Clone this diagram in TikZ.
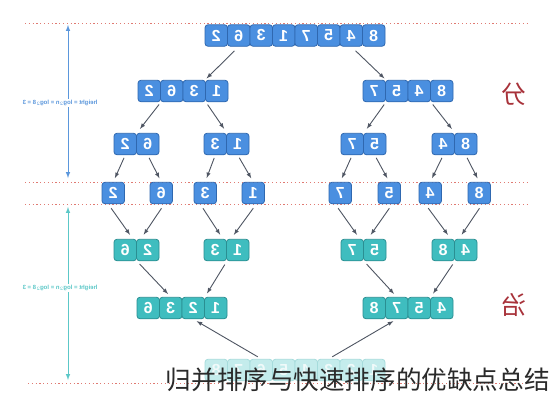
\documentclass[tikz,border=0pt]{standalone}
\usepackage{fontspec}
\usepackage{graphicx}
\setsansfont{Liberation Sans}
\newfontfamily\cjk{Noto Sans CJK SC}
\definecolor{splitblue}{HTML}{4A8FE0}
\definecolor{splitedge}{HTML}{2F68B0}
\definecolor{mergeteal}{HTML}{3FBDBF}
\definecolor{mergeedge}{HTML}{2A8F92}
\definecolor{fadeteal}{HTML}{C4ECEC}
\definecolor{fadeedge}{HTML}{A6DCDC}
\definecolor{cutred}{HTML}{E07A72}
\definecolor{arrowgrey}{HTML}{4F5663}
\definecolor{heightblue}{HTML}{5B97DC}
\definecolor{heightteal}{HTML}{5CC8C8}
\definecolor{hanred}{HTML}{A8323A}
\definecolor{captiongrey}{HTML}{2A2A2A}
\tikzset{
  cellbase/.style={rounded corners=3pt, minimum width=22.5pt, minimum height=21.5pt,
    inner sep=0pt, line width=0.8pt, text=white,
    font=\sffamily\bfseries\fontsize{16}{16}\selectfont},
  splitcell/.style={cellbase, draw=splitedge, fill=splitblue},
  mergecell/.style={cellbase, draw=mergeedge, fill=mergeteal},
  fadecell/.style={cellbase, draw=fadeedge, fill=fadeteal, text=white!75!fadeteal},
  flow/.style={-latex, color=arrowgrey, line width=0.9pt, shorten <=4pt, shorten >=4pt},
  cutline/.style={cutred, line width=0.9pt, dash pattern=on 1.2pt off 2.6pt},
  heightlabel/.style={fill=white, inner sep=1pt, font=\sffamily\bfseries\fontsize{6}{7}\selectfont},
}
% one row of cells: style, name, left edge, centre y, values
\newcommand{\cellrow}[5]{\foreach \v [count=\i] in {#5} {\node[#1] (#2\i) at ({#3+(\i-0.5)*22.5},#4) {\reflectbox{\v}};}}

\begin{document}
\begin{tikzpicture}[x=1pt, y=-1pt]
  \useasboundingbox[fill=white] (0,0) rectangle (550,400);

  %%%%% cut lines %%%%%
  \draw[cutline] (25,23.5) -- (528,23.5);
  \draw[cutline] (25,182) -- (528,182);
  \draw[cutline] (25,204) -- (528,204);
  \draw[cutline] (28,383) -- (528,383);

  %%%%% height arrows %%%%%
  \coordinate (htop) at (68,25);
  \coordinate (hmid) at (68,178);
  \coordinate (ltop) at (68,207);
  \coordinate (lbot) at (68,380);
  \draw[heightblue, line width=1pt, latex-latex] (htop) -- (hmid);
  \draw[heightteal, line width=1pt, latex-latex] (ltop) -- (lbot);
  \node[heightlabel, text=heightblue] (hsplit) at (60,103) {\reflectbox{height = log$_2$n = log$_2$8 = 3}};
  \node[heightlabel, text=heightteal] (hmerge) at (60,288) {\reflectbox{height = log$_2$n = log$_2$8 = 3}};

  %%%%% split %%%%%
  \cellrow{splitcell}{t}{205}{35.5}{2,6,3,1,7,5,4,8}
  \cellrow{splitcell}{a}{138}{91}{2,6,3,1}
  \cellrow{splitcell}{b}{363}{91}{7,5,4,8}
  \cellrow{splitcell}{c}{114}{144}{2,6}
  \cellrow{splitcell}{d}{204}{144}{3,1}
  \cellrow{splitcell}{e}{341}{144}{7,5}
  \cellrow{splitcell}{f}{432}{144}{4,8}
  \cellrow{splitcell}{sa}{102}{193}{2}
  \cellrow{splitcell}{sb}{150}{193}{6}
  \cellrow{splitcell}{sc}{194}{193}{3}
  \cellrow{splitcell}{sd}{242}{193}{1}
  \cellrow{splitcell}{se}{329}{193}{7}
  \cellrow{splitcell}{sf}{378}{193}{5}
  \cellrow{splitcell}{sg}{419}{193}{4}
  \cellrow{splitcell}{sh}{468}{193}{8}

  %%%%% merge %%%%%
  \cellrow{mergecell}{g}{114}{250}{6,2}
  \cellrow{mergecell}{h}{204}{250}{3,1}
  \cellrow{mergecell}{i}{341}{250}{7,5}
  \cellrow{mergecell}{j}{432}{250}{8,4}
  \cellrow{mergecell}{k}{137}{308}{6,3,2,1}
  \cellrow{mergecell}{l}{363}{308}{8,7,5,4}
  \cellrow{fadecell}{m}{205}{370}{8,7,6,5,4,3,2,1}

  %%%%% arrows %%%%%
  \draw[flow, shorten <=6pt, shorten >=2pt] (t2.south) -- (a4.north west);
  \draw[flow, shorten <=6pt, shorten >=2pt] (t7.south) -- (b1.north east);

  \draw[flow, shorten <=3pt, shorten >=5pt] (a1.south east) -- (c1.north east);
  \draw[flow, shorten <=3pt, shorten >=5pt] (a3.south east) -- (d1.north east);
  \draw[flow, shorten <=3pt, shorten >=5pt] (b1.south east) -- (e1.north east);
  \draw[flow, shorten <=3pt, shorten >=5pt] (b3.south east) -- (f1.north east);

  \draw[flow, shorten <=3pt] (c1.south) -- (sa1.north);
  \draw[flow, shorten <=3pt] (c2.south) -- (sb1.north);
  \draw[flow, shorten <=3pt] (d1.south) -- (sc1.north);
  \draw[flow, shorten <=3pt] (d2.south) -- (sd1.north);
  \draw[flow, shorten <=3pt] (e1.south) -- (se1.north);
  \draw[flow, shorten <=3pt] (e2.south) -- (sf1.north);
  \draw[flow, shorten <=3pt] (f1.south) -- (sg1.north);
  \draw[flow, shorten <=3pt] (f2.south) -- (sh1.north);

  \draw[flow, shorten <=5pt, shorten >=5pt] ([xshift=-5pt]sa1.south) -- ([xshift=-4pt]g1.north east);
  \draw[flow, shorten <=5pt, shorten >=5pt] ([xshift=3pt]sb1.south) -- ([xshift=4pt]g1.north east);
  \draw[flow, shorten <=5pt, shorten >=5pt] ([xshift=-5pt]sc1.south) -- ([xshift=-4pt]h1.north east);
  \draw[flow, shorten <=5pt, shorten >=5pt] ([xshift=3pt]sd1.south) -- ([xshift=4pt]h1.north east);
  \draw[flow, shorten <=5pt, shorten >=5pt] ([xshift=-5pt]se1.south) -- ([xshift=-4pt]i1.north east);
  \draw[flow, shorten <=5pt, shorten >=5pt] ([xshift=3pt]sf1.south) -- ([xshift=4pt]i1.north east);
  \draw[flow, shorten <=5pt, shorten >=5pt] ([xshift=-5pt]sg1.south) -- ([xshift=-4pt]j1.north east);
  \draw[flow, shorten <=5pt, shorten >=5pt] ([xshift=3pt]sh1.south) -- ([xshift=4pt]j1.north east);

  \draw[flow] (g1.south east) -- (k2.north);
  \draw[flow] (h1.south east) -- (k3.north east);
  \draw[flow] (i1.south east) -- (l2.north);
  \draw[flow] (j1.south east) -- (l3.north east);

  \draw[flow] (m3.north) -- (k3.south);
  \draw[flow] (m6.north) -- (l2.south);

  %%%%% side marks %%%%%
  \node[text=hanred, font=\cjk\fontsize{25}{25}\selectfont] (fen) at (514,94) {\reflectbox{分}};
  \node[text=hanred, font=\cjk\fontsize{25}{25}\selectfont] (zhi) at (514,305) {\reflectbox{治}};

  %%%%% caption %%%%%
  \node[anchor=east, inner sep=0pt, text=captiongrey, font=\cjk\fontsize{25.6}{26}\selectfont] (caption) at (550,380) {归并排序与快速排序的优缺点总结};
\end{tikzpicture}
\end{document}
